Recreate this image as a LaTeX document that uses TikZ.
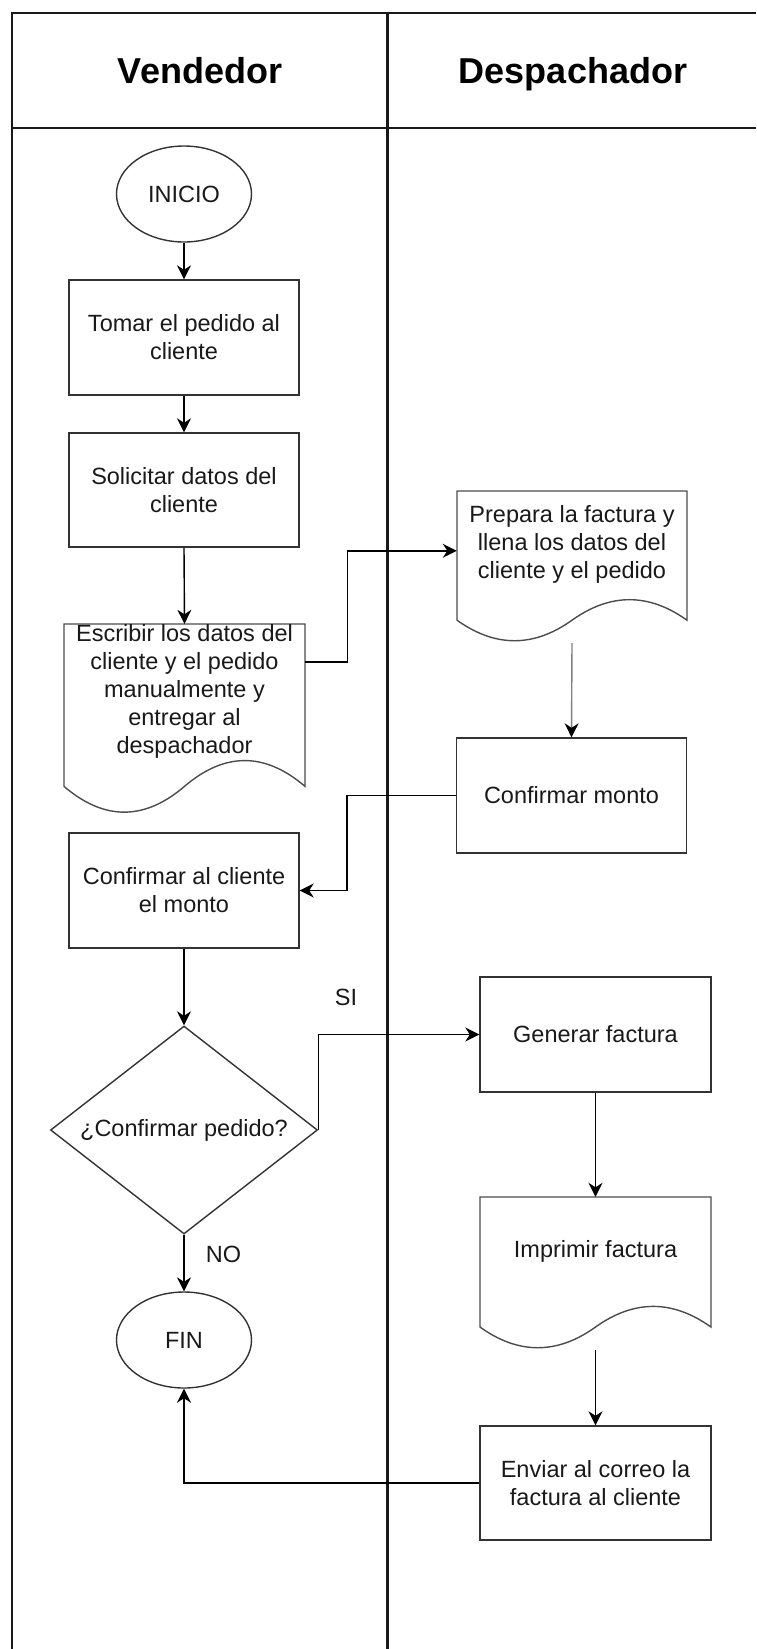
\documentclass[tikz,border=0pt]{standalone}
\usepackage{fontspec}
\setmainfont{Liberation Sans}
\usetikzlibrary{arrows.meta,calc,shapes.geometric}
\newcommand{\docshape}[5]{%
  \pgfmathsetmacro{\docL}{#2-#4/2}%
  \pgfmathsetmacro{\docR}{#2+#4/2}%
  \pgfmathsetmacro{\docT}{#3-#5/2}%
  \pgfmathsetmacro{\docS}{#3-#5/2+0.85*#5}%
  \pgfmathsetmacro{\docU}{#3-#5/2+0.67*#5}%
  \pgfmathsetmacro{\docD}{#3-#5/2+1.03*#5}%
  \pgfmathsetmacro{\docXa}{#2-#4/2+0.8333*#4}%
  \pgfmathsetmacro{\docXb}{#2-#4/2+0.6667*#4}%
  \pgfmathsetmacro{\docXc}{#2-#4/2+0.3333*#4}%
  \pgfmathsetmacro{\docXd}{#2-#4/2+0.1667*#4}%
  \node[docbox,minimum width=#4pt,minimum height=#5pt] (#1) at (#2,#3) {};
  \draw[doc] (\docL,\docT) -- (\docR,\docT) -- (\docR,\docS)
    .. controls (\docXa,\docU) and (\docXb,\docU) .. (#2,\docS)
    .. controls (\docXc,\docD) and (\docXd,\docD) .. (\docL,\docS) -- cycle;
}
\begin{document}
\begin{tikzpicture}[x=1pt,y=-1pt,
  txt/.style={font=\fontsize{23.5}{28}\selectfont,text=black!90},
  box/.style={txt,draw=black!80,line width=1.4pt,minimum width=230pt,minimum height=115pt,inner sep=0pt,align=center},
  term/.style={txt,ellipse,draw=black!80,line width=1.4pt,minimum width=135pt,minimum height=96pt,inner sep=0pt},
  docbox/.style={draw=none,inner sep=0pt},
  doc/.style={draw=black!70,line width=1.4pt},
  lbl/.style={txt,align=center,inner sep=0pt},
  hdr/.style={font=\fontsize{36}{40}\selectfont\bfseries,text=black,anchor=base,inner sep=0pt},
  conn/.style={line width=1.4pt,draw=black,-{Stealth[length=14pt,width=14pt,inset=4.5pt]}},
]
\useasboundingbox (0,0) rectangle (756,1649);
\fill[white] (0,0) rectangle (756,1649);
% swimlane frame
\draw[line width=2.2pt,black!90] (12,12.7) -- (756,12.7);
\draw[line width=2.2pt,black!90] (12,127.7) -- (756,127.7);
\draw[line width=2.6pt,black!90] (12,11.6) -- (12,1649);
\draw[line width=2.6pt,black!90] (387.5,11.6) -- (387.5,1649);
\node[hdr] (hv) at (200,83) {Vendedor};
\node[hdr] (hd) at (573,83) {Despachador};
% nodes
\node[term] (ini) at (184,194) {INICIO};
\node[box] (tom) at (184,337.5) {Tomar el pedido al\\cliente};
\node[box,minimum height=114pt] (sol) at (184,490) {Solicitar datos del\\cliente};
\docshape{esc}{184.5}{719.5}{241}{191}
\node[lbl] (esct) at (184.5,691) {Escribir los datos del\\cliente y el pedido\\manualmente y\\entregar al\\despachador};
\docshape{pre}{572}{567}{230}{152}
\node[lbl] (pret) at (572,544) {Prepara la factura y\\llena los datos del\\cliente y el pedido};
\node[box] (cm) at (571.5,795.5) {Confirmar monto};
\node[box] (cc) at (184,890.5) {Confirmar al cliente\\el monto};
\node[txt,diamond,aspect=1.284,draw=black!80,line width=1.4pt,minimum width=267pt,minimum height=208pt,inner sep=0pt] (dia) at (184,1130) {¿Confirmar pedido?};
\node[box,minimum width=231pt] (gen) at (595.5,1034.5) {Generar factura};
\docshape{imp}{595.5}{1273.5}{231}{153}
\node[lbl] (impt) at (595.5,1251.5) {Imprimir factura};
\node[box,minimum width=231pt,minimum height=114pt] (env) at (595.5,1483) {Enviar al correo la\\factura al cliente};
\node[term] (fin) at (184,1340) {FIN};
% labels
\node[lbl] (si) at (346,997) {SI};
\node[lbl] (no) at (223.5,1254) {NO};
% connectors
\draw[conn] (ini.south) -- (tom.north);
\draw[conn] (tom.south) -- (sol.north);
\draw[conn] (sol.south) -- (esc.north);
\coordinate (e1) at ($(esc.north east)+(0,38)$);
\coordinate (p1) at ($(pre.north west)+(0,60)$);
\draw[conn] (e1) -- ++(42,0) |- (p1);
\draw[line width=1.4pt,draw=black!50,-{Stealth[length=14pt,width=14pt,inset=4.5pt,color=black]}] (pre.south) -- (cm.north);
\draw[conn] (cm.west) -- ++(-109,0) |- (cc.east);
\draw[conn] (cc.south) -- (dia.north);
\draw[conn] (dia.east) |- (gen.west);
\draw[conn] (dia.south) -- (fin.north);
\draw[conn] (gen.south) -- (imp.north);
\draw[conn] (imp.south) -- (env.north);
\draw[conn] (env.west) -| (fin.south);
\end{tikzpicture}
\end{document}
